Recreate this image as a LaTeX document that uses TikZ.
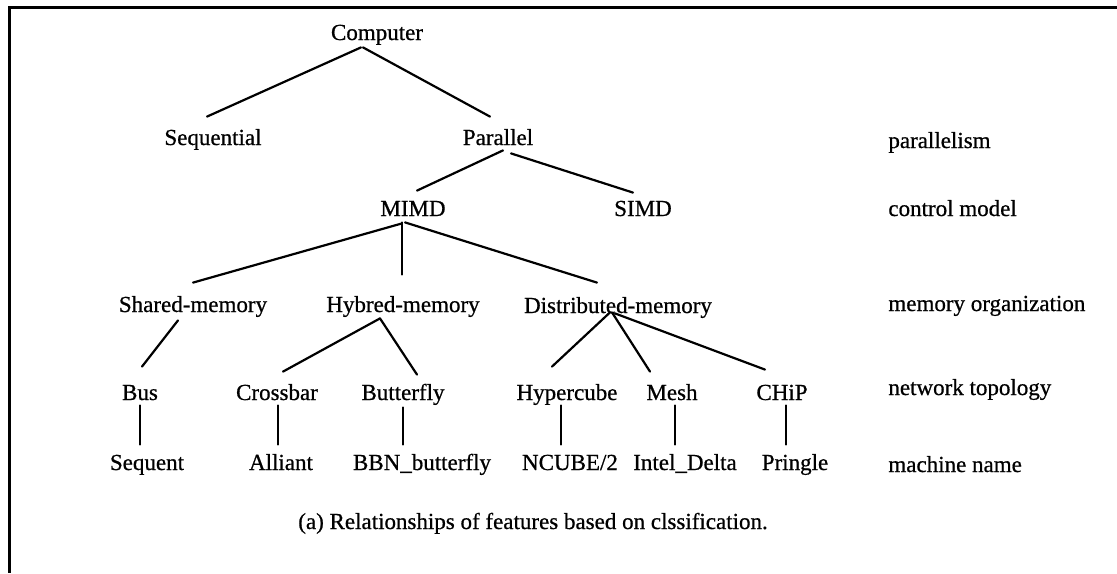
\documentclass[tikz,border=0pt]{standalone}
\usepackage{fontspec}
\setmainfont{Liberation Serif}[FakeBold=0.7]
\usetikzlibrary{calc}
\begin{document}
\begin{tikzpicture}[x=0.5pt,y=-0.5pt,
  lbl/.style={inner sep=0pt, text height=8pt, text depth=2.5pt, anchor=base,
              font=\fontsize{11.5pt}{14pt}\selectfont},
  lvl/.style={lbl, anchor=base west},
  edge/.style={line width=1.1pt, line cap=round},
  frame/.style={line width=1.5pt}]
\useasboundingbox (0,0) rectangle (1117,573);

% open frame: top and left rules
\coordinate (ftr) at (1117,7);
\coordinate (ftl) at (9,7);
\coordinate (fbl) at (9,573);
\draw[frame] (ftr) -- (ftl) -- (fbl);

% classification tree
\node[lbl] (comp)    at (377,40)  {Computer};
\node[lbl] (seq)     at (213,145) {Sequential};
\node[lbl] (par)     at (498,145) {Parallel};
\node[lbl] (mimd)    at (413,216) {MIMD};
\node[lbl] (simd)    at (643,216) {SIMD};
\node[lbl] (shm)     at (193,312) {Shared-memory};
\node[lbl] (hym)     at (403,312) {Hybred-memory};
\node[lbl] (dim)     at (618,313) {Distributed-memory};
\node[lbl] (bus)     at (140,400) {Bus};
\node[lbl] (xbar)    at (277,400) {Crossbar};
\node[lbl] (bfly)    at (403,400) {Butterfly};
\node[lbl] (hcube)   at (567,400) {Hypercube};
\node[lbl] (mesh)    at (672,400) {Mesh};
\node[lbl] (chip)    at (782,400) {CHiP};
\node[lbl] (sequent) at (147,470) {Sequent};
\node[lbl] (alliant) at (281,470) {Alliant};
\node[lbl] (bbn)     at (422,470) {BBN\_butterfly};
\node[lbl] (ncube)   at (570,470) {NCUBE/2};
\node[lbl] (delta)   at (685,470) {Intel\_Delta};
\node[lbl] (pringle) at (795,470) {Pringle};

% level names
\node[lvl] (l1) at (888,148) {parallelism};
\node[lvl] (l2) at (888,216) {control model};
\node[lvl] (l3) at (888,311) {memory organization};
\node[lvl] (l4) at (888,395) {network topology};
\node[lvl] (l5) at (888,472) {machine name};

% caption
\node[lbl] (cap) at (533,529) {(a) Relationships of features based on clssification.};

% branches
\draw[edge] ($(comp.south)+(-16,2)$) -- ($(seq.north)+(-6,-12)$);
\draw[edge] ($(comp.south)+(-14,2)$) -- ($(par.north)+(-8,-12)$);
\draw[edge] ($(par.south)+(5,0)$)    -- ($(mimd.north)+(4,-9)$);
\draw[edge] ($(par.south)+(13,3)$)   -- ($(simd.north)+(-10,-7)$);
\draw[edge] ($(mimd.south)+(-11,2)$) -- ($(shm.north)+(0,-13)$);
\draw[edge] ($(mimd.south)+(-11,1)$) -- ($(hym.north)+(-1,-21)$);
\draw[edge] ($(mimd.south)+(-8,1)$)  -- ($(dim.north)+(-21,-14)$);
\draw[edge] ($(shm.south)+(-15,3)$)  -- ($(bus.north)+(2,-17)$);
\draw[edge] ($(hym.south)+(-23,1)$)  -- ($(xbar.north)+(6,-12)$);
\draw[edge] ($(hym.south)+(-23,1)$)  -- ($(bfly.north)+(14,-9)$);
\draw[edge] ($(dim.south)+(-8,-6)$)  -- ($(hcube.north)+(-15,-17)$);
\draw[edge] ($(dim.south)+(-6,-6)$)  -- ($(mesh.north)+(-22,-12)$);
\draw[edge] ($(dim.south)+(-3,-5)$)  -- ($(chip.north)+(-17,-14)$);
\draw[edge] ($(bus.south)+(0,0)$)    -- ($(sequent.north)+(-7,-9)$);
\draw[edge] ($(xbar.south)+(1,0)$)   -- ($(alliant.north)+(-3,-9)$);
\draw[edge] ($(bfly.south)+(0,2)$)   -- ($(bbn.north)+(-19,-9)$);
\draw[edge] ($(hcube.south)+(-6,0)$) -- ($(ncube.north)+(-9,-9)$);
\draw[edge] ($(mesh.south)+(3,0)$)   -- ($(delta.north)+(-10,-9)$);
\draw[edge] ($(chip.south)+(4,0)$)   -- ($(pringle.north)+(-9,-9)$);
\end{tikzpicture}
\end{document}
